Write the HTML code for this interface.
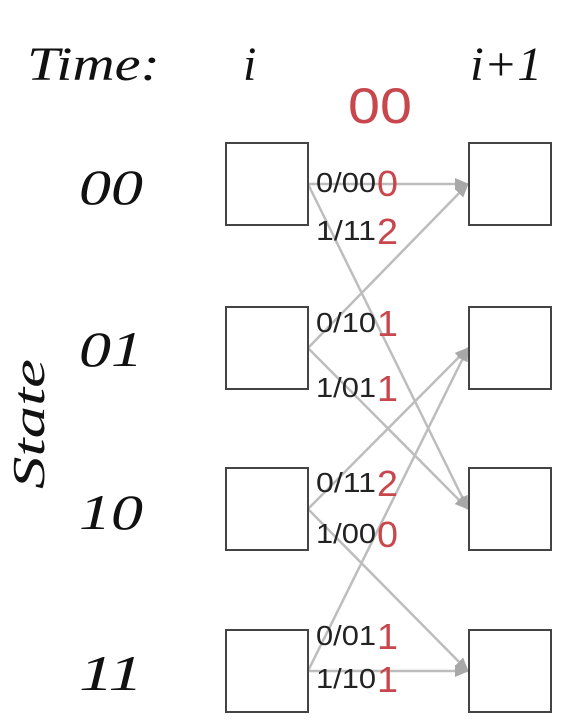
<!DOCTYPE html>
<html><head><meta charset="utf-8"><style>
html,body{margin:0;padding:0;background:#fff;width:586px;height:728px;overflow:hidden}
svg{display:block}
.ser{font-family:"Liberation Serif",serif;font-style:italic;fill:#111}
.lab{font-family:"Liberation Sans",sans-serif;fill:#222}
.red{font-family:"Liberation Sans",sans-serif;fill:#c8474c}
</style></head><body>
<svg id="chart" width="586" height="728" viewBox="0 0 586 728">
<defs><marker id="ah" markerWidth="14" markerHeight="12" refX="13" refY="6" orient="auto" markerUnits="userSpaceOnUse" viewBox="0 0 14 12"><path d="M0,0 L14,6 L0,12 z" fill="#a8a8a8"/></marker></defs>
<g id="edges"></g>
<g id="boxes"></g>
<g id="labels"></g>
<text class="ser" x="27" y="80" font-size="48" textLength="133" lengthAdjust="spacingAndGlyphs">Time:</text>
<text class="ser" x="243" y="80" font-size="48">i</text>
<text class="ser" x="470" y="80" font-size="48" textLength="72" lengthAdjust="spacingAndGlyphs">i+1</text>
<text class="red" x="348" y="123" font-size="50" textLength="64" lengthAdjust="spacingAndGlyphs">00</text>
<text class="ser" transform="translate(44,489) rotate(-90)" font-size="46" textLength="130" lengthAdjust="spacingAndGlyphs">State</text>
</svg>
<script>
const states = ["00","01","10","11"];
const rowTop = [143, 307, 468, 630];
const transFrom = [0,0,1,1,2,2,3,3];
const transTo   = [0,2,0,2,1,3,1,3];
const outputs = ["0/00","1/11","0/10","1/01","0/11","1/00","0/01","1/10"];
const metrics = ["0","2","1","1","2","0","1","1"];
const labelBase = [192,240,332,397,492,543,645,688];
const stateLabelBase = [204,366,529,690];

const NS="http://www.w3.org/2000/svg";
const BOX=82, LX=226, RX=469;
function mid(r){return rowTop[r]+BOX/2;}
const eg=document.getElementById('edges'), bg=document.getElementById('boxes'), lg=document.getElementById('labels'), svg=document.getElementById('chart');
for(let k=0;k<transFrom.length;k++){
  const l=document.createElementNS(NS,'line');
  
  
  l.setAttribute('x1',LX+BOX);l.setAttribute('y1',mid(transFrom[k]));
  l.setAttribute('x2',RX-1);l.setAttribute('y2',mid(transTo[k]));
  l.setAttribute('stroke','#bdbdbd');l.setAttribute('stroke-width','2.5');
  l.setAttribute('marker-end','url(#ah)');
  eg.appendChild(l);
}
for(let r=0;r<states.length;r++){
  for(const x of [LX,RX]){
    const b=document.createElementNS(NS,'rect');
    
    
    b.setAttribute('x',x);b.setAttribute('y',rowTop[r]);
    b.setAttribute('width',BOX);b.setAttribute('height',BOX);
    b.setAttribute('fill','#fff');b.setAttribute('stroke','#444');b.setAttribute('stroke-width','2');
    bg.appendChild(b);
  }
  const t=document.createElementNS(NS,'text');
  
  
  t.setAttribute('class','ser');t.setAttribute('x',79);t.setAttribute('y',stateLabelBase[r]);
  t.setAttribute('font-size','50');t.setAttribute('textLength','64');t.setAttribute('lengthAdjust','spacingAndGlyphs');
  t.textContent=states[r];svg.appendChild(t);
}
for(let k=0;k<outputs.length;k++){
  const t=document.createElementNS(NS,'text');
  
  
  t.setAttribute('class','lab');t.setAttribute('x',316);t.setAttribute('y',labelBase[k]);
  t.setAttribute('font-size','28');t.setAttribute('textLength','60');t.setAttribute('lengthAdjust','spacingAndGlyphs');
  t.textContent=outputs[k];lg.appendChild(t);
  const m=document.createElementNS(NS,'text');
  
  
  m.setAttribute('class','red');m.setAttribute('x',377);m.setAttribute('y',labelBase[k]+4);
  m.setAttribute('font-size','36');m.setAttribute('textLength','21');m.setAttribute('lengthAdjust','spacingAndGlyphs');
  m.textContent=metrics[k];lg.appendChild(m);
}
</script>
</body></html>
